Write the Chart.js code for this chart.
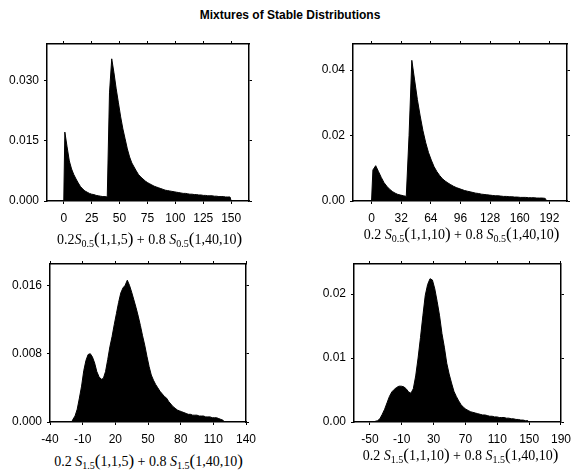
<!DOCTYPE html>
<html>
<head>
<meta charset="utf-8">
<script src="https://cdn.jsdelivr.net/npm/chart.js@4/dist/chart.umd.min.js"></script>
<style>
  body { margin: 0; background: #fff; }
  #page { position: relative; width: 578px; height: 470px; overflow: hidden; }
  canvas { position: absolute; }
  .title { position: absolute; left: 0; width: 580px; top: 8px; text-align: center;
           font: bold 12px "Liberation Sans", Arial, sans-serif; color: #000; }
  .cap { position: absolute; width: 289px; text-align: center; white-space: nowrap;
         font: 14px "Liberation Serif", "Times New Roman", serif; color: #000; }
  .cap sub { font-size: 10px; vertical-align: -3px; }
  .cap .p { font-size: 17px; }
</style>
</head>
<body>
<div id="page">
  <div class="title">Mixtures of Stable Distributions</div>
  <canvas id="c1"></canvas>
  <canvas id="c2"></canvas>
  <canvas id="c3"></canvas>
  <canvas id="c4"></canvas>
  <div class="cap" style="left:5px; top:229px">0.2<i>S</i><sub>0.5</sub><span class="p">(</span>1,1,5<span class="p">)</span> + 0.8 <i>S</i><sub>0.5</sub><span class="p">(</span>1,40,10<span class="p">)</span></div>
  <div class="cap" style="left:317px; top:224px">0.2 <i>S</i><sub>0.5</sub><span class="p">(</span>1,1,10<span class="p">)</span> + 0.8 <i>S</i><sub>0.5</sub><span class="p">(</span>1,40,10<span class="p">)</span></div>
  <div class="cap" style="left:4px; top:451px">0.2 <i>S</i><sub>1.5</sub><span class="p">(</span>1,1,5<span class="p">)</span> + 0.8 <i>S</i><sub>1.5</sub><span class="p">(</span>1,40,10<span class="p">)</span></div>
  <div class="cap" style="left:316px; top:445px">0.2 <i>S</i><sub>1.5</sub><span class="p">(</span>1,1,10<span class="p">)</span> + 0.8 <i>S</i><sub>1.5</sub><span class="p">(</span>1,40,10<span class="p">)</span></div>
</div>
<script>
// histogram densities, one value per bin
const alpha05a = { start: 0, width: 2 };
const alpha05aDensity = [
  0.0172, 0.0135, 0.0100, 0.0080, 0.0066, 0.0055, 0.0045, 0.0036, 0.0030, 0.0025,
  0.0022, 0.0019, 0.0017, 0.0016, 0.0014, 0.0013, 0.0012, 0.0011, 0.0011, 0.0010,
  0.0270, 0.0355, 0.0320, 0.0280, 0.0245, 0.0210, 0.0180, 0.0155, 0.0130, 0.0110,
  0.0095, 0.0085, 0.0075, 0.0066, 0.0060, 0.0055, 0.0050, 0.0046, 0.0043, 0.0040,
  0.0037, 0.0035, 0.0033, 0.0031, 0.0029, 0.0027, 0.0026, 0.0025, 0.0024, 0.0023,
  0.0022, 0.0021, 0.0020, 0.0019, 0.0019, 0.0018, 0.0017, 0.0017, 0.0016, 0.0016,
  0.0015, 0.0015, 0.0014, 0.0014, 0.0013, 0.0013, 0.0013, 0.0012, 0.0012, 0.0011,
  0.0011, 0.0011, 0.0010, 0.0010, 0.0010
];
const alpha05b = { start: 0, width: 3 };
const alpha05bDensity = [
  0.0095, 0.0108, 0.0090, 0.0072, 0.0056, 0.0045, 0.0036, 0.0029, 0.0024, 0.0020,
  0.0018, 0.0016, 0.0014, 0.0200, 0.0430, 0.0370, 0.0310, 0.0260, 0.0215, 0.0178,
  0.0148, 0.0125, 0.0105, 0.0090, 0.0078, 0.0068, 0.0061, 0.0055, 0.0050, 0.0045,
  0.0041, 0.0038, 0.0035, 0.0032, 0.0030, 0.0028, 0.0026, 0.0024, 0.0023, 0.0021,
  0.0020, 0.0019, 0.0018, 0.0017, 0.0016, 0.0016, 0.0015, 0.0014, 0.0014, 0.0013,
  0.0013, 0.0012, 0.0012, 0.0011, 0.0011, 0.0011, 0.0010, 0.0010, 0.0010, 0.0009,
  0.0009, 0.0009, 0.0008
];
const alpha15a = { start: -20, width: 2 };
const alpha15aDensity = [
  0.0003, 0.0007, 0.0015, 0.0028, 0.0042, 0.0060, 0.0072, 0.0079, 0.0080, 0.0076,
  0.0069, 0.0059, 0.0053, 0.0050, 0.0051, 0.0059, 0.0073, 0.0088, 0.0100, 0.0114,
  0.0127, 0.0140, 0.0151, 0.0157, 0.0160, 0.0166, 0.0160, 0.0152, 0.0143, 0.0134,
  0.0124, 0.0113, 0.0101, 0.0090, 0.0077, 0.0065, 0.0055, 0.0049, 0.0044, 0.0040,
  0.0036, 0.0033, 0.0030, 0.0028, 0.0024, 0.0021, 0.0018, 0.0016, 0.0014, 0.0013,
  0.0012, 0.0011, 0.0010, 0.0009, 0.0009, 0.0008, 0.0008, 0.0008, 0.0007, 0.0007,
  0.0007, 0.0006, 0.0006, 0.0006, 0.0005, 0.0005, 0.0005, 0.0004, 0.0003, 0.0002
];
const alpha15b = { start: -45, width: 3 };
const alpha15bDensity = [
  0.0001, 0.0002, 0.0005, 0.0012, 0.0020, 0.0030, 0.0040, 0.0047, 0.0051, 0.0054,
  0.0056, 0.0056, 0.0055, 0.0052, 0.0047, 0.0045, 0.0052, 0.0072, 0.0100, 0.0132,
  0.0166, 0.0198, 0.0215, 0.0224, 0.0222, 0.0208, 0.0188, 0.0166, 0.0138, 0.0117,
  0.0092, 0.0075, 0.0061, 0.0048, 0.0040, 0.0033, 0.0027, 0.0023, 0.0020, 0.0018,
  0.0016, 0.0015, 0.0014, 0.0013, 0.0012, 0.0011, 0.0011, 0.0010, 0.0009, 0.0009,
  0.0008, 0.0008, 0.0007, 0.0007, 0.0007, 0.0006, 0.0006, 0.0005, 0.0005, 0.0004,
  0.0004, 0.0003, 0.0003, 0.0002, 0.0002
];

// axis ticks and ranges
const xTicks1 = [0, 25, 50, 75, 100, 125, 150];
const yTicks1 = [0, 0.015, 0.030];
const xTicks2 = [0, 32, 64, 96, 128, 160, 192];
const yTicks2 = [0, 0.02, 0.04];
const xTicks3 = [-40, -10, 20, 50, 80, 110, 140];
const yTicks3 = [0, 0.008, 0.016];
const xTicks4 = [-50, -10, 30, 70, 110, 150, 190];
const yTicks4 = [0, 0.01, 0.02];
const xRange1 = [-15, 166], yRange1 = [0, 0.0392];
const xRange2 = [-20, 211], yRange2 = [0, 0.048];
const xRange3 = [-40, 140], yRange3 = [0, 0.0185];
const xRange4 = [-70, 190], yRange4 = [0, 0.0247];

Chart.defaults.font.family = '"Liberation Sans", Arial, sans-serif';
Chart.defaults.font.size = 12;
Chart.defaults.color = '#000';

const TICK = 3;

// outline through bin midpoints, closed to zero at both ends
function histPoints(bins, density) {
  const end = bins.start + density.length * bins.width;
  const pts = [{ x: bins.start, y: 0 }];
  density.forEach((d, i) => pts.push({ x: bins.start + (i + 0.5) * bins.width, y: d }));
  pts.push({ x: end, y: 0 });
  return pts;
}

function setTicks(values) {
  return scale => { scale.ticks = values.map(v => ({ value: v })); };
}

function axis(pos, range, ticks, extra) {
  return Object.assign({
    type: 'linear',
    position: pos,
    min: range[0],
    max: range[1],
    afterBuildTicks: setTicks(ticks),
    grid: { drawOnChartArea: false, drawTicks: true, tickLength: TICK, color: '#000', tickWidth: 1 },
    border: { display: true, color: '#000', width: 1.5 }
  }, extra);
}

function drawPanel(id, frame, box, opts) {
  const canvas = document.getElementById(id);
  canvas.width = frame.w;
  canvas.height = frame.h;
  canvas.style.left = frame.x + 'px';
  canvas.style.top = frame.y + 'px';

  const leftW = box.l - frame.x;
  const bottomH = frame.y + frame.h - box.b;

  const datasets = [{
    data: histPoints(opts.bins, opts.density),
    fill: 'origin',
    backgroundColor: '#000',
    borderColor: '#000',
    borderWidth: 1,
    pointRadius: 0,
    tension: 0
  }];
  if (opts.rug) {
    // dotted baseline under the sampled range
    const first = opts.bins.start;
    const last = opts.bins.start + opts.density.length * opts.bins.width;
    datasets.push({
      data: [{ x: first, y: 0 }, { x: last, y: 0 }],
      borderColor: '#3a9a9a',
      borderWidth: 1,
      borderDash: [2, 2],
      pointRadius: 0,
      fill: false
    });
  }

  new Chart(canvas, {
    type: 'line',
    data: { datasets },
    options: {
      responsive: false,
      animation: false,
      devicePixelRatio: 1,
      layout: { padding: { left: 0, top: box.t - frame.y - TICK, right: frame.x + frame.w - box.r - TICK, bottom: 0 } },
      plugins: { legend: { display: false }, tooltip: { enabled: false } },
      scales: {
        x: axis('bottom', opts.xRange, opts.xTicks, {
          ticks: { padding: 7, maxRotation: 0, autoSkip: false },
          afterFit: s => { s.height = bottomH; }
        }),
        x2: axis('top', opts.xRange, opts.xTicks, {
          ticks: { display: false },
          afterFit: s => { s.height = TICK; }
        }),
        y: axis('left', opts.yRange, opts.yTicks, {
          ticks: { padding: 5, callback: v => v.toFixed(opts.digits) },
          afterFit: s => { s.width = leftW; }
        }),
        y2: axis('right', opts.yRange, opts.yTicks, {
          ticks: { display: false },
          afterFit: s => { s.width = TICK; }
        })
      }
    }
  });
}

drawPanel('c1', { x: 0, y: 30, w: 289, h: 200 }, { l: 47, t: 44, r: 249, b: 201 },
  { bins: alpha05a, density: alpha05aDensity, xRange: xRange1, yRange: yRange1, xTicks: xTicks1, yTicks: yTicks1, digits: 3, rug: true });
drawPanel('c2', { x: 289, y: 30, w: 289, h: 200 }, { l: 353, t: 44, r: 567, b: 201 },
  { bins: alpha05b, density: alpha05bDensity, xRange: xRange2, yRange: yRange2, xTicks: xTicks2, yTicks: yTicks2, digits: 2, rug: true });
drawPanel('c3', { x: 0, y: 250, w: 289, h: 200 }, { l: 50, t: 264, r: 246, b: 422 },
  { bins: alpha15a, density: alpha15aDensity, xRange: xRange3, yRange: yRange3, xTicks: xTicks3, yTicks: yTicks3, digits: 3 });
drawPanel('c4', { x: 289, y: 250, w: 289, h: 200 }, { l: 354, t: 264, r: 567, b: 422 },
  { bins: alpha15b, density: alpha15bDensity, xRange: xRange4, yRange: yRange4, xTicks: xTicks4, yTicks: yTicks4, digits: 2 });
</script>
</body>
</html>
